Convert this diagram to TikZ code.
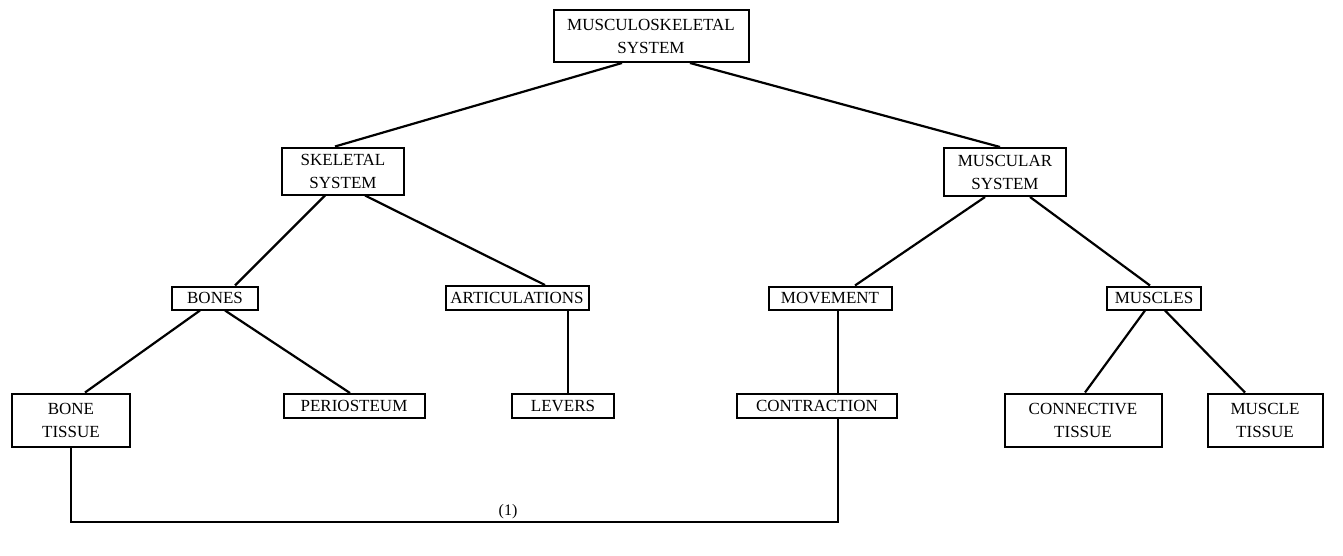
\documentclass[tikz,border=0pt]{standalone}
\usepackage{fontspec}
\setmainfont{Liberation Serif}
\begin{document}
\begin{tikzpicture}[x=0.5pt,y=-0.5pt,
  box/.style={draw, line width=1pt, align=center, inner sep=0pt, font=\fontsize{8.5}{11.5}\selectfont},
  link/.style={line width=1.1pt}]
\useasboundingbox (0,0) rectangle (1343,556);
\node[box, minimum width=97.5pt, minimum height=26pt] (ms) at (651,36) {MUSCULOSKELETAL\\SYSTEM};
\node[box, minimum width=61pt, minimum height=23.5pt] (skel) at (343,171) {SKELETAL\\SYSTEM};
\node[box, minimum width=61pt, minimum height=24pt] (musc) at (1005,172) {MUSCULAR\\SYSTEM};
\node[box, minimum width=43pt, minimum height=11.5pt] (bones) at (215,298) {BONES};
\node[box, minimum width=71.5pt, minimum height=12pt] (artic) at (517,298) {ARTICULATIONS};
\node[box, minimum width=61.5pt, minimum height=11.5pt] (move) at (830,298) {MOVEMENT};
\node[box, minimum width=47pt, minimum height=11.5pt] (muscles) at (1154,298) {MUSCLES};
\node[box, minimum width=59pt, minimum height=26.5pt] (bt) at (71,420) {BONE\\TISSUE};
\node[box, minimum width=70.5pt, minimum height=12pt] (peri) at (354,406) {PERIOSTEUM};
\node[box, minimum width=51pt, minimum height=12pt] (lev) at (563,406) {LEVERS};
\node[box, minimum width=80pt, minimum height=12pt] (contr) at (817,406) {CONTRACTION};
\node[box, minimum width=78.5pt, minimum height=26.5pt] (conn) at (1083,420) {CONNECTIVE\\TISSUE};
\node[box, minimum width=57.5pt, minimum height=26.5pt] (mt) at (1265,420) {MUSCLE\\TISSUE};
\node[font=\fontsize{8}{10}\selectfont] (lab) at (508,512) {(1)};
\coordinate (turn) at (838,522);

\draw[link] ([xshift=-14.5pt]ms.south) -- ([xshift=-4pt]skel.north);
\draw[link] ([xshift=19.5pt]ms.south) -- ([xshift=-2.5pt]musc.north);
\draw[link] ([xshift=-9pt]skel.south) -- ([xshift=10pt]bones.north);
\draw[link] ([xshift=11pt]skel.south) -- ([xshift=14pt]artic.north);
\draw[link] ([xshift=-10pt]musc.south) -- ([xshift=12.5pt]move.north);
\draw[link] ([xshift=12.5pt]musc.south) -- ([xshift=-2pt]muscles.north);
\draw[link] ([xshift=-7.5pt]bones.south) -- ([xshift=7pt]bt.north);
\draw[link] ([xshift=5pt]bones.south) -- ([xshift=-2pt]peri.north);
\draw[link] ([xshift=25.5pt]artic.south) -- ([xshift=2.5pt]lev.north);
\draw[link] ([xshift=4pt]move.south) -- ([xshift=10.5pt]contr.north);
\draw[link] ([xshift=-4.5pt]muscles.south) -- ([xshift=1pt]conn.north);
\draw[link] ([xshift=5.5pt]muscles.south) -- ([xshift=-10pt]mt.north);
\draw[link] (bt.south) |- (turn) -- ([xshift=10.5pt]contr.south);

\end{tikzpicture}
\end{document}
